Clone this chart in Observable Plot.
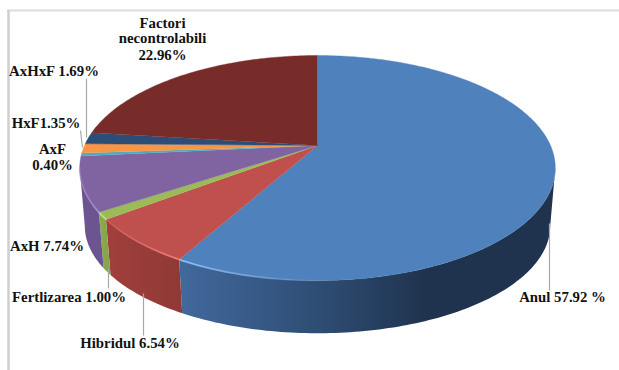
<!DOCTYPE html>
<html>
<head>
<meta charset="utf-8">
<script src="https://cdn.jsdelivr.net/npm/d3@7"></script>
<script src="https://cdn.jsdelivr.net/npm/@observablehq/plot@0.6"></script>
<style>
  html, body { margin: 0; padding: 0; background: #fff; }
  svg { display: block; }
</style>
</head>
<body>
<div id="chart"></div>
<script>
// Shares of yield variation, clockwise from twelve o'clock
const names = ["Anul", "Hibridul", "Fertilizarea", "AxH", "AxF", "HxF", "AxHxF", "Factori necontrolabili"];
const shares = [57.92, 6.54, 1.0, 7.74, 0.4, 1.35, 1.69, 22.96];
const colors = ["#4f81bd", "#c0504d", "#9bbb59", "#8064a2", "#4bacc6", "#f79646", "#2c4d75", "#772c2a"];

// Wall shading, left to right across each slice: [offset, colour]
const wallStops = [
  [[0, "#41699b"], [0.1, "#3c6192"], [0.36, "#2f4e75"], [0.66, "#1f334e"], [1, "#1f334e"]],
  [[0, "#a13f3c"], [1, "#8f3936"]],
  [[0, "#8aab4d"], [1, "#85a349"]],
  [[0, "#6c5592"], [1, "#6b548f"]]
];
// Pale bevel along the front rim of the disc: [offset, colour, opacity]
const rimStops = [
  [[0, "#8fbdf2", 1], [0.18, "#7aa9e0", 0.8], [0.4, "#6f9bd0", 0], [1, "#6f9bd0", 0]],
  [[0, "#d9706b", 0.2], [1, "#ec7e78", 1]],
  [[0, "#bcd985", 1], [1, "#bcd985", 1]],
  [[0, "#a48ccb", 0.4], [1, "#a48ccb", 1]]
];

const labels = [
  {text: "Factori", x: 162, y: 23},
  {text: "necontrolabili", x: 162, y: 38},
  {text: "22.96%", x: 162, y: 55},
  {text: "AxHxF 1.69%", x: 53.5, y: 71},
  {text: "HxF1.35%", x: 45.5, y: 123},
  {text: "AxF", x: 52, y: 149},
  {text: "0.40%", x: 52, y: 165},
  {text: "AxH 7.74%", x: 46.5, y: 246},
  {text: "Fertlizarea 1.00%", x: 68.5, y: 297},
  {text: "Hibridul 6.54%", x: 129.5, y: 343},
  {text: "Anul 57.92 %", x: 562, y: 297}
];
const leaders = [
  {x1: 86, y1: 78, x2: 86, y2: 137},
  {x1: 80, y1: 130, x2: 82, y2: 147},
  {x1: 108, y1: 268, x2: 108, y2: 288},
  {x1: 143, y1: 293, x2: 143, y2: 335},
  {x1: 549, y1: 223, x2: 549, y2: 290}
];

// The disc seen in perspective: a circle through a homography, top face and base
const tilt = 0.2;
const centreX = 317;
const topFace = {b: 233, a: 108, y0: 145};
const baseFace = {b: 228, a: 103, y0: 204};
const project = (face, deg) => {
  const t = deg * Math.PI / 180;
  const u = Math.sin(t), v = -Math.cos(t), w = 1 - tilt * v;
  return {x: centreX + face.b * u / w, y: face.y0 + face.a * v / w};
};
const arc = (face, from, to) => {
  const n = Math.max(2, Math.ceil(Math.abs(to - from)));
  return d3.range(n + 1).map(i => project(face, from + (to - from) * i / n));
};

// Angular extent of each slice; the printed shares add up to slightly under 100
const total = d3.sum(shares);
let running = 0;
const slices = names.map((name, i) => {
  const start = running / total * 360;
  running += shares[i];
  return {name, start, end: running / total * 360, color: colors[i], index: i};
});

// The wall shows only between the two silhouette tangents
const limit = Math.acos(tilt) * 180 / Math.PI;
const wallMin = 180 - limit, wallMax = 180 + limit;

const walls = slices
  .map(s => ({...s, a: Math.max(s.start, wallMin), b: Math.min(s.end, wallMax)}))
  .filter(s => s.b > s.a);

const gradient = (defs, id, stops) => {
  const g = defs.append("linearGradient").attr("id", id);
  for (const [offset, color, opacity] of stops) {
    const stop = g.append("stop").attr("offset", offset).attr("stop-color", color);
    if (opacity !== undefined) stop.attr("stop-opacity", opacity);
  }
};
const defsMark = () => {
  const svg = d3.create("svg:g");
  const defs = svg.append("defs");
  wallStops.forEach((stops, i) => gradient(defs, `wall${i}`, stops));
  rimStops.forEach((stops, i) => gradient(defs, `rim${i}`, stops));
  return svg.node();
};

const chart = Plot.plot({
  width: 619,
  height: 370,
  margin: 0,
  x: {domain: [0, 619], range: [0, 619], axis: null},
  y: {domain: [0, 370], range: [0, 370], axis: null},
  marks: [
    defsMark,
    Plot.ruleY([10], {x1: 7, x2: 619, stroke: "#dcdcdc", strokeWidth: 2}),
    Plot.ruleX([8], {y1: 10, y2: 370, stroke: "#cfcfcf", strokeWidth: 2.5}),

    // Side wall
    ...walls.map(s => Plot.line(
      [...arc(topFace, s.a, s.b), ...arc(baseFace, s.b, s.a)],
      {x: "x", y: "y", fill: `url(#wall${s.index})`, stroke: "none"}
    )),

    // Top face
    ...slices.map(s => Plot.line(
      [{x: centreX, y: topFace.y0}, ...arc(topFace, s.start, s.end)],
      {x: "x", y: "y", fill: s.color, stroke: s.color, strokeWidth: 0.4}
    )),

    // Rim highlight
    ...walls.map(s => Plot.line(
      arc(topFace, s.a, s.b),
      {x: "x", y: "y", stroke: `url(#rim${s.index})`, strokeWidth: 1.8}
    )),

    // Leader lines and labels
    Plot.link(leaders, {x1: "x1", y1: "y1", x2: "x2", y2: "y2", stroke: "#a8a8a8", strokeWidth: 1.2}),
    Plot.text(labels, {
      x: "x", y: "y", text: "text",
      fontFamily: "'Liberation Serif', serif",
      fontWeight: "bold",
      fontSize: 14.8,
      fill: "#111"
    })
  ]
});
document.getElementById("chart").append(chart);
</script>
</body>
</html>
